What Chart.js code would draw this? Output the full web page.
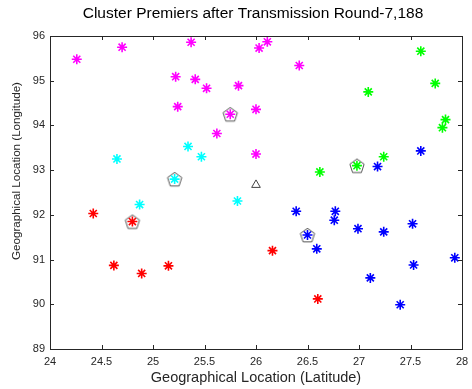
<!DOCTYPE html>
<html>
<head>
<meta charset="utf-8">
<script src="https://cdn.jsdelivr.net/npm/chart.js@4"></script>
<style>
  html, body { margin: 0; padding: 0; background: #fff; }
  #wrap { width: 472px; height: 389px; }
</style>
</head>
<body>
<div id="wrap"><canvas id="clusterChart" width="472" height="389"></canvas></div>
<script>
// node positions per cluster (latitude, longitude)
const magentaLat = [24.26, 24.70, 25.37, 25.22, 25.41, 25.52, 25.83, 25.24, 25.75, 25.62, 26.00, 26.00, 26.03, 26.11, 26.42];
const magentaLon = [95.48, 95.75, 95.86, 95.09, 95.03, 94.83, 94.89, 94.42, 94.25, 93.82, 94.36, 93.36, 95.73, 95.87, 95.34];

const cyanLat = [24.65, 25.34, 25.47, 25.21, 24.87, 25.82];
const cyanLon = [93.25, 93.53, 93.30, 92.80, 92.23, 92.31];

const redLat = [24.42, 24.80, 24.62, 24.89, 25.15, 26.16, 26.60];
const redLon = [92.03, 91.85, 90.87, 90.69, 90.86, 91.20, 90.12];

const blueLat = [26.39, 26.77, 26.76, 26.50, 26.59, 26.99, 27.24, 27.52, 27.93, 27.53, 27.11, 27.40, 27.18, 27.60];
const blueLon = [92.08, 92.08, 91.88, 91.55, 91.24, 91.69, 91.62, 91.80, 91.04, 90.88, 90.59, 89.99, 93.08, 93.43];

const greenLat = [27.60, 27.74, 27.09, 27.84, 27.81, 27.24, 26.98, 26.62];
const greenLon = [95.66, 94.94, 94.75, 94.13, 93.95, 93.30, 93.10, 92.96];

// cluster heads (premiers) and the base station
const headLat = [25.75, 25.21, 24.80, 26.50, 26.98];
const headLon = [94.25, 92.80, 91.85, 91.55, 93.10];
const baseLat = [26.00];
const baseLon = [92.67];

const xTicks = [24, 24.5, 25, 25.5, 26, 26.5, 27, 27.5, 28];
const yTicks = [89, 90, 91, 92, 93, 94, 95, 96];

const chartTitle = 'Cluster Premiers after Transmission Round-7,188';
const yTitle = 'Geographical Location (Longitude)';
const xTitle = 'Geographical Location (Latitude)';

const FONT = 'Liberation Sans, Arial, sans-serif';

function toPoints(lat, lon) {
    return lat.map((x, i) => ({ x: x, y: lon[i] }));
}

// pentagon marker drawn on a small canvas
function makePentagon() {
    const c = document.createElement('canvas');
    c.width = 18;
    c.height = 18;
    const ctx = c.getContext('2d');
    ctx.strokeStyle = '#555';
    ctx.lineWidth = 1;
    ctx.beginPath();
    for (let i = 0; i < 5; i++) {
        const a = -Math.PI / 2 + i * 2 * Math.PI / 5;
        const px = 9 + 7.5 * Math.cos(a);
        const py = 9.8 + 7.5 * Math.sin(a);
        if (i === 0) ctx.moveTo(px, py); else ctx.lineTo(px, py);
    }
    ctx.closePath();
    ctx.stroke();
    return c;
}

function starSet(label, lat, lon, color) {
    return {
        label: label,
        data: toPoints(lat, lon),
        pointStyle: 'star',
        pointRadius: 5,
        pointBorderWidth: 1.6,
        borderColor: color,
        backgroundColor: color,
        order: 1
    };
}

// box, inward ticks and titles like the original figure
const boxPlugin = {
    id: 'boxTicks',
    afterDraw(chart) {
        const { ctx, chartArea: a, scales } = chart;
        ctx.save();
        ctx.strokeStyle = '#262626';
        ctx.lineWidth = 1;
        ctx.beginPath();
        xTicks.forEach(v => {
            const x = Math.round(scales.x.getPixelForValue(v)) + 0.5;
            ctx.moveTo(x, a.bottom); ctx.lineTo(x, a.bottom - 4);
            ctx.moveTo(x, a.top); ctx.lineTo(x, a.top + 4);
        });
        yTicks.forEach(v => {
            const y = Math.round(scales.y.getPixelForValue(v)) + 0.5;
            ctx.moveTo(a.left, y); ctx.lineTo(a.left + 4, y);
            ctx.moveTo(a.right, y); ctx.lineTo(a.right - 4, y);
        });
        ctx.stroke();
        ctx.strokeRect(Math.round(a.left) + 0.5, Math.round(a.top) + 0.5,
            Math.round(a.right - a.left), Math.round(a.bottom - a.top));

        // main title, centred over the plot box
        ctx.fillStyle = '#000';
        ctx.textAlign = 'center';
        ctx.textBaseline = 'middle';
        ctx.font = '15.5px ' + FONT;
        ctx.fillText(chartTitle, (a.left + a.right) / 2 - 3, 14);

        // y axis title
        ctx.fillStyle = '#262626';
        ctx.font = '11.6px ' + FONT;
        ctx.translate(17, 171);
        ctx.rotate(-Math.PI / 2);
        ctx.fillText(yTitle, 0, 0);
        ctx.restore();
    }
};

const ctx = document.getElementById('clusterChart').getContext('2d');
new Chart(ctx, {
    type: 'scatter',
    data: {
        datasets: [
            starSet('Cluster 1', magentaLat, magentaLon, '#ff00ff'),
            starSet('Cluster 2', cyanLat, cyanLon, '#00ffff'),
            starSet('Cluster 3', redLat, redLon, '#ff0000'),
            starSet('Cluster 4', blueLat, blueLon, '#0000ff'),
            starSet('Cluster 5', greenLat, greenLon, '#00ff00'),
            {
                label: 'Premiers',
                data: toPoints(headLat, headLon),
                pointStyle: makePentagon(),
                pointRadius: 9,
                order: 2
            },
            {
                label: 'Base station',
                data: toPoints(baseLat, baseLon),
                pointStyle: 'triangle',
                pointRadius: 5,
                pointBorderWidth: 1,
                borderColor: '#444',
                backgroundColor: '#fff',
                order: 1
            }
        ]
    },
    options: {
        responsive: false,
        animation: false,
        layout: { padding: { top: 36, right: 6 } },
        plugins: {
            legend: { display: false },
            tooltip: { enabled: false },
            title: { display: false }
        },
        scales: {
            x: {
                type: 'linear',
                min: 24,
                max: 28,
                afterBuildTicks: (scale) => { scale.ticks = xTicks.map(v => ({ value: v })); },
                afterFit: (scale) => { scale.height = 40; scale.paddingLeft = 0; scale.paddingRight = 0; },
                grid: { display: false, drawTicks: false },
                border: { display: false },
                ticks: {
                    color: '#262626',
                    padding: 6,
                    maxRotation: 0,
                    callback: (v) => String(v),
                    font: { family: FONT, size: 11 }
                },
                title: {
                    display: true,
                    text: xTitle,
                    color: '#262626',
                    font: { family: FONT, size: 14.5 },
                    padding: { top: 0, bottom: 2 }
                }
            },
            y: {
                type: 'linear',
                min: 89,
                max: 96,
                afterBuildTicks: (scale) => { scale.ticks = yTicks.map(v => ({ value: v })); },
                afterFit: (scale) => { scale.width = 50; scale.paddingTop = 0; scale.paddingBottom = 0; },
                grid: { display: false, drawTicks: false },
                border: { display: false },
                ticks: {
                    color: '#262626',
                    padding: 5,
                    callback: (v) => String(v),
                    font: { family: FONT, size: 11 }
                },
                title: { display: false }
            }
        }
    },
    plugins: [boxPlugin]
});
</script>
</body>
</html>
